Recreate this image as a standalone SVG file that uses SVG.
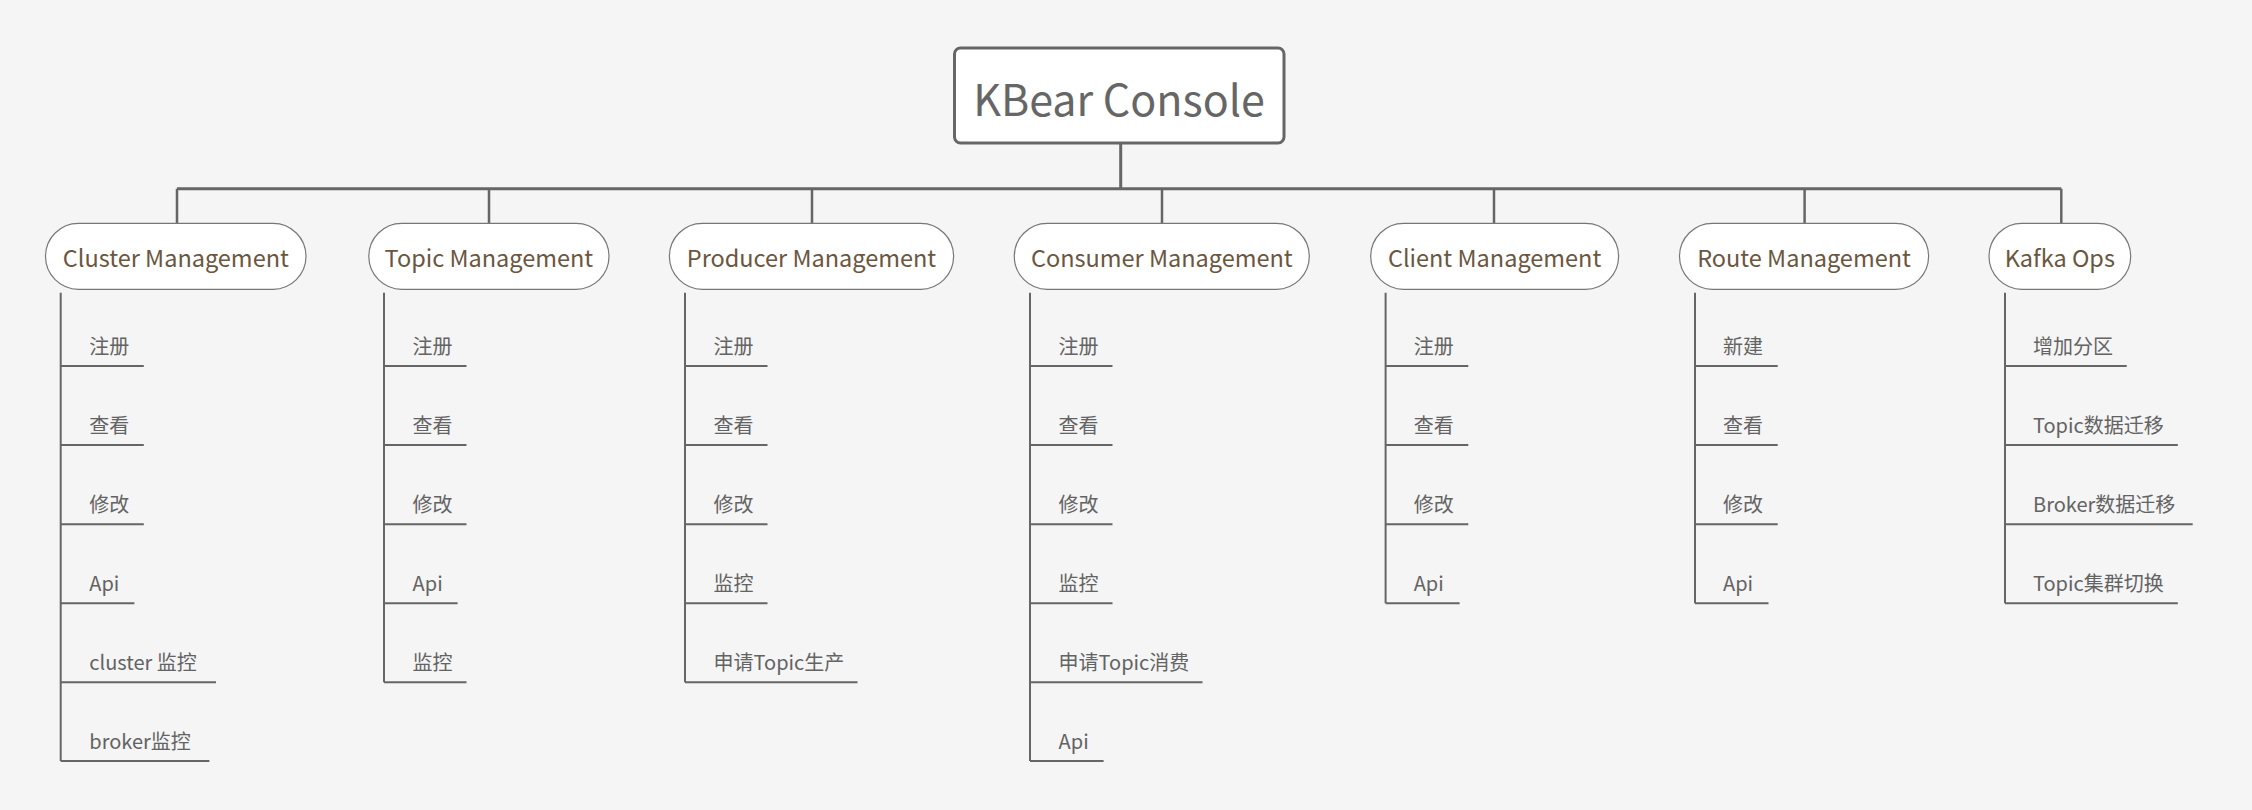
<svg xmlns="http://www.w3.org/2000/svg" width="2252" height="810" viewBox="0 0 2252 810">
<style>
.bg{fill:#f5f5f5}
.root{fill:#ffffff;stroke:#666666;stroke-width:3}
.roott{font-family:"Noto Sans CJK SC","Liberation Sans",sans-serif;font-size:43px;fill:#666666;text-anchor:middle}
.br{fill:#ffffff;stroke:#777777;stroke-width:1.2}
.brt{font-family:"Noto Sans CJK SC","Liberation Sans",sans-serif;font-size:23.5px;fill:#6b5640;text-anchor:middle}
.sub{font-family:"Noto Sans CJK SC","Liberation Sans",sans-serif;font-size:20px;fill:#636363}
.c1{fill:none;stroke:#666666;stroke-width:3}
.c2{fill:none;stroke:#666666;stroke-width:2.5}
.u{fill:none;stroke:#666666;stroke-width:2}
</style>
<rect class="bg" x="0" y="0" width="2252" height="810"/>
<g id="connectors">
<path class="c1" d="M1120.7 143.5V188.7M177 188.7H2061.3"/>
<path class="c2" d="M177 188.7V223.3M489 188.7V223.3M812 188.7V223.3M1162 188.7V223.3M1494 188.7V223.3M1804.6 188.7V223.3M2061.3 188.7V223.3"/>
</g>
<g id="root">
<rect class="root" x="954.5" y="48" width="329.5" height="95" rx="6"/>
<text class="roott" x="1119" y="116">KBear Console</text>
</g>
<g id="cluster">
<rect class="br" x="45.5" y="223.3" width="260.5" height="66" rx="33"/>
<text class="brt" x="175.8" y="267">Cluster Management</text>
<path class="u" d="M60.7 292.7V761M60.7 366H143.8M60.7 445H143.8M60.7 524.3H143.8M60.7 603.3H134.4M60.7 682.3H216M60.7 761H209.4"/>
<text class="sub" x="89.3" y="353.5">注册</text>
<text class="sub" x="89.3" y="432.5">查看</text>
<text class="sub" x="89.3" y="511.8">修改</text>
<text class="sub" x="89.3" y="590.8">Api</text>
<text class="sub" x="89.3" y="669.8">cluster 监控</text>
<text class="sub" x="89.3" y="748.5">broker监控</text>
</g>
<g id="topic">
<rect class="br" x="368.8" y="223.3" width="240.2" height="66" rx="33"/>
<text class="brt" x="488.9" y="267">Topic Management</text>
<path class="u" d="M384 292.7V682.3M384 366H466.5M384 445H466.5M384 524.3H466.5M384 603.3H457.6M384 682.3H466.5"/>
<text class="sub" x="412.6" y="353.5">注册</text>
<text class="sub" x="412.6" y="432.5">查看</text>
<text class="sub" x="412.6" y="511.8">修改</text>
<text class="sub" x="412.6" y="590.8">Api</text>
<text class="sub" x="412.6" y="669.8">监控</text>
</g>
<g id="producer">
<rect class="br" x="669.4" y="223.3" width="284.2" height="66" rx="33"/>
<text class="brt" x="811.5" y="267">Producer Management</text>
<path class="u" d="M685 292.7V682.3M685 366H767.5M685 445H767.5M685 524.3H767.5M685 603.3H767.5M685 682.3H857.5"/>
<text class="sub" x="713.6" y="353.5">注册</text>
<text class="sub" x="713.6" y="432.5">查看</text>
<text class="sub" x="713.6" y="511.8">修改</text>
<text class="sub" x="713.6" y="590.8">监控</text>
<text class="sub" x="713.6" y="669.8">申请Topic生产</text>
</g>
<g id="consumer">
<rect class="br" x="1014.3" y="223.3" width="295" height="66" rx="33"/>
<text class="brt" x="1161.8" y="267">Consumer Management</text>
<path class="u" d="M1030 292.7V761M1030 366H1112.5M1030 445H1112.5M1030 524.3H1112.5M1030 603.3H1112.5M1030 682.3H1202.5M1030 761H1103.6"/>
<text class="sub" x="1058.6" y="353.5">注册</text>
<text class="sub" x="1058.6" y="432.5">查看</text>
<text class="sub" x="1058.6" y="511.8">修改</text>
<text class="sub" x="1058.6" y="590.8">监控</text>
<text class="sub" x="1058.6" y="669.8">申请Topic消费</text>
<text class="sub" x="1058.6" y="748.5">Api</text>
</g>
<g id="client">
<rect class="br" x="1370.7" y="223.3" width="247.9" height="66" rx="33"/>
<text class="brt" x="1494.6" y="267">Client Management</text>
<path class="u" d="M1385.6 292.7V603.3M1385.6 366H1468.3M1385.6 445H1468.3M1385.6 524.3H1468.3M1385.6 603.3H1459.6"/>
<text class="sub" x="1413.7" y="353.5">注册</text>
<text class="sub" x="1413.7" y="432.5">查看</text>
<text class="sub" x="1413.7" y="511.8">修改</text>
<text class="sub" x="1413.7" y="590.8">Api</text>
</g>
<g id="route">
<rect class="br" x="1679.5" y="223.3" width="249.1" height="66" rx="33"/>
<text class="brt" x="1804" y="267">Route Management</text>
<path class="u" d="M1695 292.7V603.3M1695 366H1777.7M1695 445H1777.7M1695 524.3H1777.7M1695 603.3H1768.5"/>
<text class="sub" x="1723" y="353.5">新建</text>
<text class="sub" x="1723" y="432.5">查看</text>
<text class="sub" x="1723" y="511.8">修改</text>
<text class="sub" x="1723" y="590.8">Api</text>
</g>
<g id="kafka">
<rect class="br" x="1989" y="223.3" width="141.7" height="66" rx="33"/>
<text class="brt" x="2059.8" y="267">Kafka Ops</text>
<path class="u" d="M2005 292.7V603.3M2005 366H2126.7M2005 445H2177.8M2005 524.3H2192.7M2005 603.3H2177.8"/>
<text class="sub" x="2033" y="353.5">增加分区</text>
<text class="sub" x="2033" y="432.5">Topic数据迁移</text>
<text class="sub" x="2033" y="511.8">Broker数据迁移</text>
<text class="sub" x="2033" y="590.8">Topic集群切换</text>
</g>
</svg>
